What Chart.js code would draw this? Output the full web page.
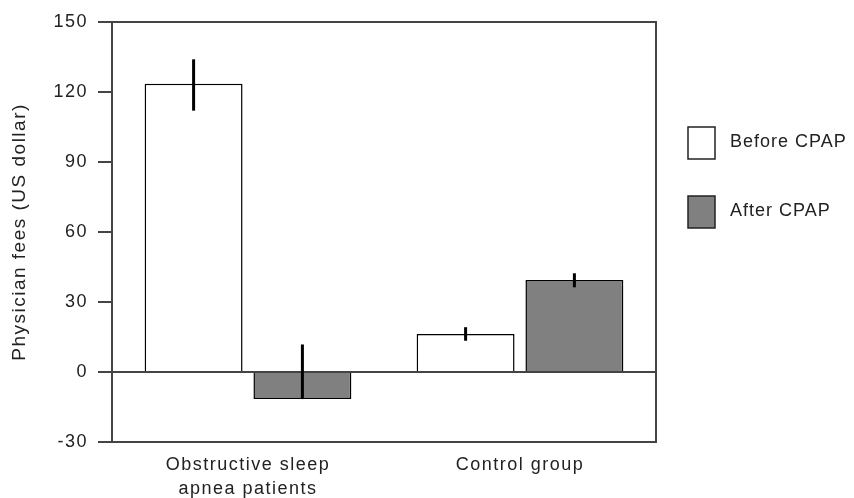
<!DOCTYPE html>
<html>
<head>
<meta charset="utf-8">
<script src="https://cdn.jsdelivr.net/npm/chart.js@4"></script>
<style>
  html, body { margin: 0; padding: 0; background: #fff; }
  #wrap { width: 854px; height: 498px; }
</style>
</head>
<body>
<div id="wrap"><canvas id="c" width="854" height="498"></canvas></div>
<script>
const categories = [['Obstructive sleep', 'apnea patients'], 'Control group'];
const seriesNames = ['Before CPAP', 'After CPAP'];
const beforeValues = [123.5, 16.3];
const afterValues = [-11.6, 39.4];
const beforeErrLow = [112.0, 13.4];
const beforeErrHigh = [134.0, 19.2];
const afterErrLow = [-11.6, 36.3];
const afterErrHigh = [11.8, 42.3];
const yTickValues = [-30, 0, 30, 60, 90, 120, 150];

const FONT = 'Liberation Sans, Arial, Helvetica, sans-serif';
const TEXT = '#222';
const AXIS = '#444';
const LS = '1.5px';

const spacingPlugin = {
  id: 'spacing',
  beforeUpdate(c) { c.ctx.letterSpacing = LS; },
  beforeLayout(c) { c.ctx.letterSpacing = LS; },
  beforeDraw(c) { c.ctx.letterSpacing = LS; }
};

const framePlugin = {
  id: 'frame',
  beforeDatasetsDraw(c) {
    const a = c.chartArea, ctx = c.ctx;
    ctx.save();
    ctx.strokeStyle = AXIS;
    ctx.lineWidth = 2;
    ctx.strokeRect(a.left, a.top, a.right - a.left, a.bottom - a.top);
    ctx.restore();
  },
  afterDatasetsDraw(c) {
    const a = c.chartArea, ctx = c.ctx;
    const y0 = c.scales.y.getPixelForValue(0);
    ctx.save();
    ctx.strokeStyle = AXIS;
    ctx.lineWidth = 2;
    ctx.beginPath();
    ctx.moveTo(a.left, y0);
    ctx.lineTo(a.right, y0);
    ctx.stroke();
    ctx.restore();
  }
};

const errorPlugin = {
  id: 'errbars',
  afterDatasetsDraw(c) {
    const ctx = c.ctx, y = c.scales.y;
    const lows = [beforeErrLow, afterErrLow];
    const highs = [beforeErrHigh, afterErrHigh];
    ctx.save();
    ctx.strokeStyle = '#000';
    ctx.lineWidth = 3;
    c.data.datasets.forEach((ds, di) => {
      c.getDatasetMeta(di).data.forEach((bar, i) => {
        ctx.beginPath();
        ctx.moveTo(bar.x, y.getPixelForValue(lows[di][i]));
        ctx.lineTo(bar.x, y.getPixelForValue(highs[di][i]));
        ctx.stroke();
      });
    });
    ctx.restore();
  }
};

const legendPlugin = {
  id: 'customLegend',
  afterDraw(c) {
    const ctx = c.ctx;
    const a = c.chartArea;
    const x0 = a.right + 32;
    const ys = [127, 196];
    ctx.save();
    ctx.letterSpacing = '1px';
    c.data.datasets.forEach((ds, i) => {
      ctx.fillStyle = ds.backgroundColor;
      ctx.fillRect(x0, ys[i], 27, 32);
      ctx.strokeStyle = '#222';
      ctx.lineWidth = 1.5;
      ctx.strokeRect(x0, ys[i], 27, 32);
      ctx.fillStyle = TEXT;
      ctx.font = '18px ' + FONT;
      ctx.textBaseline = 'middle';
      ctx.textAlign = 'left';
      ctx.fillText(ds.label, x0 + 42, ys[i] + 15);
    });
    ctx.restore();
  }
};

new Chart(document.getElementById('c'), {
  type: 'bar',
  data: {
    labels: categories,
    datasets: [
      { label: seriesNames[0], data: beforeValues, backgroundColor: '#ffffff', borderColor: '#000', borderWidth: 1.5, borderSkipped: 'start' },
      { label: seriesNames[1], data: afterValues, backgroundColor: '#808080', borderColor: '#000', borderWidth: 1.5, borderSkipped: 'start' }
    ]
  },
  options: {
    responsive: false,
    animation: false,
    devicePixelRatio: 1,
    categoryPercentage: 0.8,
    barPercentage: 0.9,
    layout: { padding: { left: 0, right: 198, top: 22, bottom: 0 } },
    plugins: { legend: { display: false }, tooltip: { enabled: false } },
    scales: {
      x: {
        grid: { display: false, drawTicks: false },
        border: { display: false },
        ticks: { color: TEXT, padding: 11, font: { family: FONT, size: 18, lineHeight: 1.35 }, maxRotation: 0 },
        afterFit(s) { s.height = 56; }
      },
      y: {
        min: -30, max: 150,
        afterBuildTicks(s) { s.ticks = yTickValues.map(v => ({ value: v })); },
        grid: {
          color: 'rgba(0,0,0,0)',
          tickColor: AXIS,
          lineWidth: 2,
          tickLength: 14,
          drawOnChartArea: true
        },
        border: { display: false },
        ticks: { color: TEXT, padding: 10, font: { family: FONT, size: 18 } },
        title: { display: true, text: 'Physician fees (US dollar)', color: TEXT, font: { family: FONT, size: 19 }, padding: { top: 8, bottom: 0 } },
        afterFit(s) { s.width = 112; }
      }
    }
  },
  plugins: [spacingPlugin, framePlugin, errorPlugin, legendPlugin]
});
</script>
</body>
</html>
